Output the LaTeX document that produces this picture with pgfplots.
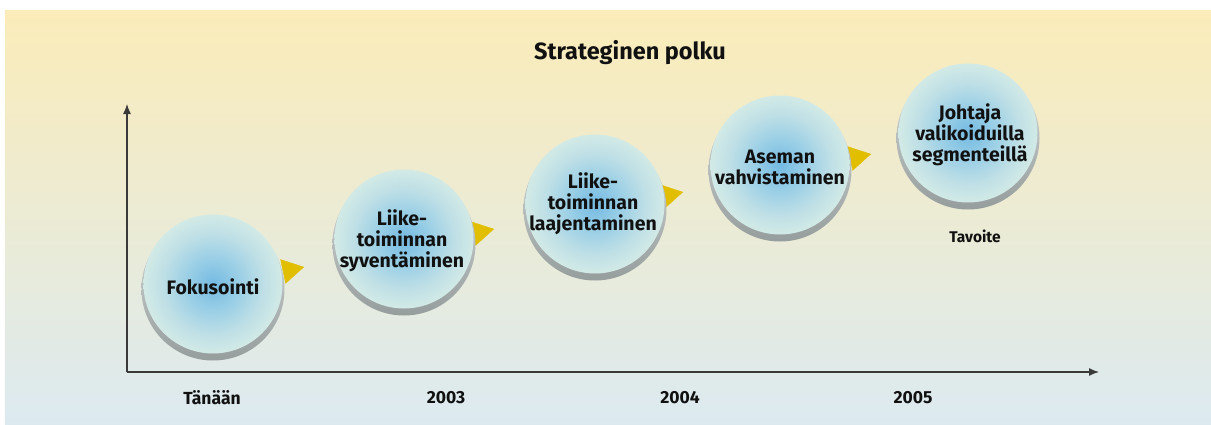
\documentclass[border=0pt]{standalone}
\usepackage{fontspec}
\setmainfont{Fira Sans}
\usepackage{pgfplots}
\pgfplotsset{compat=1.18}
\usetikzlibrary{arrows.meta}
\definecolor{bgtop}{RGB}{251,236,185}
\definecolor{bgbot}{RGB}{220,234,240}
\definecolor{c1}{RGB}{116,186,226}
\definecolor{c2}{RGB}{152,206,230}
\definecolor{c3}{RGB}{190,223,230}
\definecolor{c4}{RGB}{210,234,230}
\definecolor{shtop}{RGB}{215,220,220}
\definecolor{shbot}{RGB}{150,157,157}
\definecolor{tri}{RGB}{226,190,0}
\definecolor{axc}{RGB}{58,58,58}
\definecolor{txt}{RGB}{17,17,17}
\pgfdeclareradialshading{disc}{\pgfpointorigin}{color(0bp)=(c1); color(9bp)=(c2); color(18bp)=(c3); color(25bp)=(c4); color(50bp)=(c4)}
\newcommand\cfont{\fontsize{19.5}{21}\selectfont\bfseries}
\newcommand\lfont{\fontsize{17.5}{20}\selectfont\bfseries}
\begin{document}
\begin{tikzpicture}
\begin{axis}[
  width=972pt, height=268pt, scale only axis,
  xmin=127, xmax=1099, ymin=0, ymax=268,
  axis lines=left, axis on top,
  xtick=\empty, ytick=\empty,
  clip=false,
  axis line style={draw=axc, line width=1.3pt},
  x axis line style={-{Latex[length=10pt,width=8pt]}},
  y axis line style={-{Latex[length=10pt,width=8pt]}},
  every node near coord/.append style={anchor=center, text=txt},
]
\fill[top color=bgtop, bottom color=bgbot] (axis cs:5,361) rectangle (axis cs:1211,-52);
\path (axis cs:0,372) (axis cs:1211,-52);
% triangles
\addplot[only marks, mark=triangle*, mark size=14pt, color=tri, mark options={rotate=-78, fill=tri, draw=tri}]
  coordinates {(290,102) (480,140) (669,177) (857,215)};
% shadows
\addplot[draw=none, mark=none, nodes near coords={},
  every node near coord/.append style={circle, minimum size=143pt, inner sep=0pt, top color=shtop, bottom color=shbot}]
  coordinates {(213,83) (404,128) (595,163) (780,202) (968,234)};
% faces
\addplot[draw=none, mark=none, nodes near coords={},
  every node near coord/.append style={circle, minimum size=139pt, inner sep=0pt, shading=disc}]
  coordinates {(213,88) (404,133) (595,168) (780,207) (968,239)};
% texts
\addplot[draw=none, mark=none, nodes near coords={Fokusointi},
  every node near coord/.append style={align=center, font=\cfont}] coordinates {(213,85)};
\addplot[draw=none, mark=none, nodes near coords={Liike-\\toiminnan\\syventäminen},
  every node near coord/.append style={align=center, font=\cfont}] coordinates {(402,131)};
\addplot[draw=none, mark=none, nodes near coords={Liike-\\toiminnan\\laajentaminen},
  every node near coord/.append style={align=center, font=\cfont}] coordinates {(593,168)};
\addplot[draw=none, mark=none, nodes near coords={Aseman\\vahvistaminen},
  every node near coord/.append style={align=center, font=\cfont}] coordinates {(780,205)};
\addplot[draw=none, mark=none, nodes near coords={Johtaja\\valikoiduilla\\segmenteillä},
  every node near coord/.append style={align=center, font=\cfont}] coordinates {(970,237)};
\node[font=\fontsize{23.5}{26}\selectfont\bfseries, text=txt] at (axis cs:630,319) {Strateginen polku};
\node[font=\fontsize{15.5}{18}\selectfont\bfseries, text=txt] at (axis cs:975,136) {Tavoite};
\node[font=\lfont, text=txt] at (axis cs:212,-26) {Tänään};
\node[font=\lfont, text=txt] at (axis cs:446,-26) {2003};
\node[font=\lfont, text=txt] at (axis cs:680,-26) {2004};
\node[font=\lfont, text=txt] at (axis cs:913,-26) {2005};
\end{axis}
\end{tikzpicture}
\end{document}
